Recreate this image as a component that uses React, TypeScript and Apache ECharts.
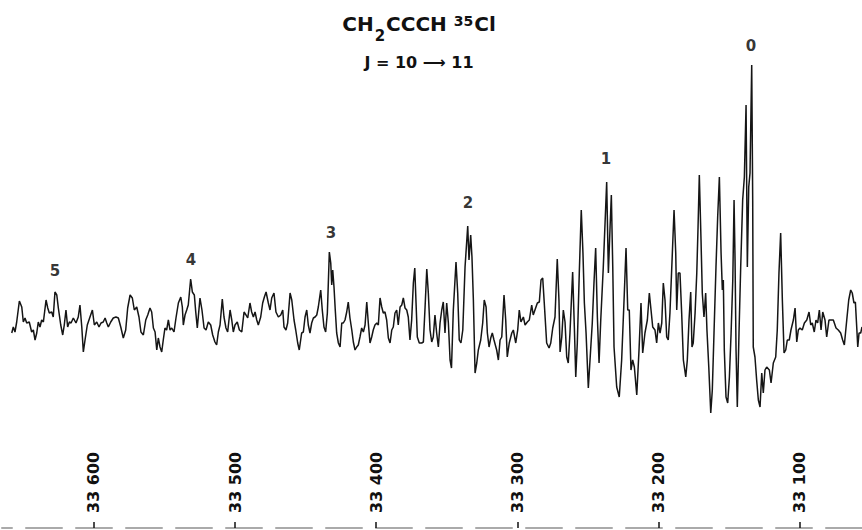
import React, { useEffect, useRef } from "react";
import * as echarts from "echarts";

// Frequency (MHz) of each trace point, read from the recording
const freqs: number[] = [
  33658.1, 33657.0, 33655.8, 33654.6, 33652.7, 33651.0, 33649.9, 33648.7, 33647.5, 33645.7,
  33644.0, 33642.8, 33641.6, 33640.4, 33639.3, 33638.1, 33636.9, 33635.7, 33633.8, 33632.6,
  33631.5, 33629.8, 33628.7, 33627.5, 33626.2, 33625.1, 33623.4, 33622.0, 33620.9, 33619.7,
  33618.5, 33617.3, 33616.1, 33614.5, 33612.6, 33611.0, 33609.8, 33608.5, 33607.4, 33606.2,
  33604.6, 33602.7, 33601.0, 33599.6, 33597.9, 33596.3, 33594.9, 33593.3, 33592.0, 33590.8,
  33589.7, 33588.0, 33586.2, 33584.3, 33582.6, 33580.9, 33579.1, 33577.4, 33576.0, 33574.3,
  33572.7, 33571.3, 33569.6, 33568.0, 33566.6, 33564.9, 33563.2, 33561.8, 33560.2, 33559.0,
  33557.8, 33556.6, 33555.4, 33554.3, 33553.1, 33551.9, 33550.8, 33549.6, 33548.4, 33547.2,
  33546.0, 33544.8, 33543.2, 33541.8, 33540.1, 33538.4, 33537.3, 33536.6, 33535.4, 33534.2,
  33533.1, 33531.4, 33530.2, 33528.8, 33527.8, 33526.7, 33524.8, 33523.4, 33521.9, 33520.5,
  33518.9, 33517.2, 33515.8, 33514.2, 33513.0, 33511.8, 33510.6, 33509.0, 33507.8, 33506.4,
  33505.2, 33503.5, 33502.3, 33501.2, 33500.0, 33498.4, 33496.9, 33495.2, 33493.6, 33492.2,
  33491.0, 33489.4, 33488.2, 33487.0, 33485.8, 33484.6, 33483.5, 33481.8, 33480.4, 33479.2,
  33478.0, 33476.4, 33475.2, 33474.0, 33472.4, 33471.0, 33469.3, 33467.6, 33466.2, 33465.3,
  33463.9, 33462.7, 33461.0, 33459.8, 33458.2, 33457.0, 33455.6, 33454.5, 33452.8, 33451.6,
  33450.4, 33449.2, 33448.1, 33446.9, 33445.7, 33444.5, 33443.3, 33442.1, 33441.0, 33439.3,
  33438.2, 33437.0, 33435.8, 33434.6, 33433.2, 33432.2, 33431.5, 33430.8, 33429.9, 33429.0,
  33428.0, 33426.8, 33425.6, 33424.4, 33423.3, 33422.1, 33420.9, 33419.8, 33418.6, 33417.3,
  33416.2, 33415.0, 33413.8, 33412.7, 33411.5, 33410.3, 33409.1, 33407.9, 33406.7, 33405.6,
  33404.4, 33403.2, 33402.1, 33400.9, 33399.6, 33398.5, 33397.3, 33396.1, 33395.0, 33393.8,
  33392.6, 33391.4, 33390.2, 33389.0, 33387.9, 33386.7, 33385.5, 33384.4, 33383.1, 33381.9,
  33380.8, 33379.6, 33378.4, 33377.3, 33376.1, 33374.9, 33373.7, 33372.7, 33371.8, 33370.9,
  33369.5, 33367.8, 33366.6, 33365.4, 33364.2, 33363.1, 33361.9, 33360.7, 33359.6, 33358.4,
  33357.2, 33356.0, 33354.8, 33353.6, 33352.5, 33351.3, 33350.1, 33348.9, 33347.7, 33346.7,
  33345.4, 33343.5, 33342.3, 33341.2, 33340.0, 33338.7, 33337.1, 33335.2, 33334.3, 33333.1,
  33332.2, 33331.2, 33330.0, 33328.8, 33327.7, 33326.0, 33324.6, 33323.5, 33322.2, 33321.3,
  33320.1, 33318.9, 33317.8, 33316.6, 33314.7, 33313.5, 33312.3, 33311.1, 33309.5, 33308.3,
  33307.2, 33305.8, 33304.0, 33302.9, 33301.2, 33299.8, 33298.7, 33297.5, 33295.8, 33294.6,
  33293.0, 33291.6, 33289.9, 33288.8, 33287.6, 33285.9, 33284.5, 33283.3, 33282.1, 33281.0,
  33279.3, 33277.6, 33276.4, 33275.0, 33273.4, 33271.8, 33270.6, 33269.8, 33268.6, 33267.5,
  33266.3, 33265.1, 33264.0, 33262.8, 33260.9, 33259.7, 33258.7, 33257.6, 33256.2, 33254.8,
  33253.6, 33252.6, 33251.4, 33249.8, 33248.6, 33247.0, 33245.8, 33244.6, 33243.4, 33242.2,
  33241.0, 33239.2, 33237.5, 33236.8, 33235.6, 33234.4, 33233.5, 33232.5, 33231.6, 33229.7,
  33227.9, 33226.2, 33224.5, 33223.1, 33221.9, 33220.8, 33219.6, 33218.4, 33217.2, 33215.5,
  33213.9, 33212.5, 33211.3, 33209.7, 33208.0, 33206.6, 33205.4, 33204.2, 33202.6, 33201.4,
  33200.2, 33199.0, 33197.8, 33196.7, 33195.5, 33194.3, 33193.2, 33192.0, 33190.3, 33189.1,
  33187.9, 33187.2, 33186.1, 33184.9, 33183.7, 33182.5, 33180.8, 33179.7, 33178.5, 33177.3,
  33176.4, 33175.5, 33174.2, 33173.0, 33172.1, 33171.2, 33170.0, 33169.1, 33167.9, 33166.7,
  33165.8, 33164.5, 33163.1, 33162.0, 33160.8, 33159.4, 33158.2, 33157.0, 33155.8, 33154.9,
  33154.2, 33153.5, 33152.3, 33151.1, 33149.9, 33148.7, 33147.5, 33146.6, 33145.9, 33145.2,
  33144.3, 33143.1, 33141.9, 33140.5, 33139.3, 33138.1, 33137.2, 33136.2, 33135.3, 33134.6,
  33134.1, 33133.4, 33133.0, 33131.8, 33130.6, 33129.4, 33128.2, 33127.0, 33125.9, 33124.7,
  33123.5, 33121.6, 33120.4, 33118.8, 33117.1, 33116.0, 33114.8, 33113.6, 33112.4, 33111.2,
  33110.0, 33108.9, 33107.5, 33106.3, 33104.6, 33103.4, 33102.2, 33101.1, 33099.9, 33098.3,
  33096.8, 33095.1, 33093.5, 33092.3, 33091.2, 33089.8, 33088.6, 33087.4, 33086.2, 33085.0,
  33083.8, 33082.2, 33081.0, 33079.4, 33077.4, 33076.3, 33074.4, 33072.8, 33071.1, 33069.7,
  33068.5, 33066.8, 33065.4, 33064.0, 33062.9, 33061.7, 33060.7, 33059.7, 33059.0, 33058.1,
  33056.9, 33056.0,
];

// Detector signal (arbitrary units) at each frequency above
const intensities: number[] = [
  -8, -2, -7, 3, 24, 18, 3, 7, 2, 3,
  -7, -5, -15, -8, 3, -2, 5, 3, 25, 17,
  12, 13, 8, 33, 30, 17, 0, -10, 0, 15,
  -2, 3, 2, 7, 2, 8, 20, -2, -27, -15,
  0, 8, 15, 0, 3, -2, 2, 3, 7, 2,
  -2, 3, 7, 8, 7, -2, -13, -5, 17, 30,
  27, 15, 18, 8, -7, -10, 5, 10, 17, 13,
  -3, -7, -25, -13, -22, -27, -15, -3, -5, 5,
  -5, -3, -7, 7, 22, 28, 18, 0, 10, 15,
  20, 46, 33, 30, 13, -3, 27, 15, -3, -5,
  3, 0, -10, -17, -20, -7, 0, 26, 8, -3,
  -7, 15, 5, -7, 0, 3, -5, -7, 13, 10,
  7, 22, 13, 8, 13, 5, 0, 8, 22, 28,
  33, 22, 15, 27, 32, 13, 8, 10, 15, -2,
  -5, 2, 32, 25, 5, -5, -18, -25, -8, -7,
  8, 15, 0, -8, 2, 7, 8, 10, 18, 35,
  15, -2, -7, 12, 73, 62, 40, 55, 38, 15,
  -8, -18, -22, 2, 2, 5, 13, 23, 7, -5,
  -17, -25, -22, -20, -12, -3, -7, 0, 23, 2,
  -18, -12, -5, 0, 2, 0, 27, 18, 12, 13,
  5, -13, -18, -5, -2, 12, 15, 0, 18, 20,
  27, 17, 15, 8, -15, 5, 42, 57, 22, -12,
  -18, -18, -17, 18, 56, 32, -5, -17, -12, 10,
  -8, -22, 2, 15, 23, -8, 22, 2, -35, -43,
  15, 63, 32, -15, -18, -5, 58, 99, 65, 90,
  68, 25, -48, -38, -25, -15, 2, 25, 18, -8,
  -22, -13, -8, -15, -25, -35, -15, -12, 30, 5,
  -32, -18, -8, -5, -18, -5, 15, 3, 8, 0,
  3, 5, 20, 10, 15, 22, 23, 45, 47, 22,
  -18, -23, -18, -3, 8, 66, 25, -27, -12, 15,
  3, -32, -38, -8, 53, -2, -52, -18, 52, 115,
  72, 22, -8, -63, -35, 2, 42, 77, 8, -38,
  5, 58, 118, 143, 52, 98, 130, 58, -22, -62,
  -72, -35, 25, 77, 15, 15, -45, -35, -42, -70,
  -25, 22, -28, -8, 5, 32, 15, -2, -5, -18,
  2, -8, 2, 42, 25, -12, -15, 12, 72, 115,
  72, 15, 52, 52, 12, -35, -52, -35, 5, 33,
  -22, -18, 12, 52, 98, 150, 85, 32, 8, 32,
  -5, -42, -88, -65, -8, 58, 108, 148, 72, 35,
  45, -25, -72, -78, -52, -8, 45, 125, 65, -25,
  -82, -8, 58, 125, 148, 220, 58, 138, 152, 215,
  260, 125, -22, -32, -55, -75, -82, -48, -68, -45,
  -42, -45, -58, -38, -32, -5, 52, 92, 25, -28,
  -25, -15, -15, -5, 5, 17, -17, -5, -3, -5,
  2, 5, 13, 0, 2, -7, 5, 2, 15, -5,
  13, 5, -12, 5, 5, 5, -3, -5, -8, -15,
  -20, 5, 25, 35, 32, 22, 23, -3, -22, -8,
  -8, -2,
];

// Vibrational-state labels placed above their lines
const peakNames: string[] = ["5", "4", "3", "2", "1", "0"];
const peakFreqs: number[] = [33627.5, 33531.2, 33432.0, 33335.0, 33237.3, 33134.6];
const peakLabelHeights: number[] = [54, 65, 92, 122, 166, 279];

// Frequency tick labels (MHz)
const tickValues: number[] = [33600, 33500, 33400, 33300, 33200, 33100];

const FONT = "DejaVu Sans";

export default function App() {
  const ref = useRef<HTMLDivElement>(null);

  useEffect(() => {
    if (!ref.current) return;
    const chart = echarts.init(ref.current, null, { renderer: "svg" });
    const trace = freqs.map((f, i) => [f, intensities[i]]);
    const peaks = peakFreqs.map((f, i) => [f, peakLabelHeights[i]]);

    chart.setOption({
      animation: false,
      backgroundColor: "#ffffff",
      title: [
        {
          text: "{a|CH}{b|2}{a|CCCH }{c|35}{a|Cl}",
          left: 419,
          top: 14,
          padding: 0,
          textAlign: "center",
          textStyle: {
            fontWeight: "bold",
            rich: {
              a: { fontFamily: FONT, fontSize: 20, fontWeight: "bold", lineHeight: 24, color: "#111", verticalAlign: "top" },
              b: { fontFamily: FONT, fontSize: 15, fontWeight: "bold", lineHeight: 14, padding: [14, 1, 0, 1], color: "#111", verticalAlign: "top" },
              c: { fontFamily: FONT, fontSize: 14, fontWeight: "bold", lineHeight: 15, padding: [0, 1, 0, 0], color: "#111", verticalAlign: "top" },
            },
          },
        },
        {
          text: "J = 10 ⟶ 11",
          left: 419,
          top: 53,
          padding: 0,
          textAlign: "center",
          textStyle: { fontFamily: FONT, fontSize: 16, lineHeight: 18, fontWeight: "bold", color: "#111" },
        },
      ],
      grid: { left: 2, right: 0, top: 20, bottom: 105, containLabel: false },
      xAxis: {
        type: "value",
        inverse: true,
        min: 33056,
        max: 33665,
        offset: 103,
        splitLine: { show: false },
        axisLine: { show: true, onZero: false, lineStyle: { color: "#aaa", width: 2, type: [36, 14] } },
        axisTick: {
          show: true,
          inside: true,
          length: 6,
          customValues: tickValues,
          lineStyle: { color: "#111", width: 1.5 },
        },
        axisLabel: {
          show: true,
          inside: true,
          rotate: 90,
          margin: 15,
          customValues: tickValues,
          fontFamily: FONT,
          fontSize: 16,
          fontWeight: "bold",
          color: "#111",
          formatter: (v: number) => {
            const s = String(Math.round(v));
            return s.slice(0, 2) + " " + s.slice(2);
          },
        },
      },
      yAxis: {
        type: "value",
        min: -100,
        max: 305,
        show: false,
        splitLine: { show: false },
      },
      series: [
        {
          type: "line",
          data: trace,
          showSymbol: false,
          symbol: "none",
          clip: false,
          lineStyle: { color: "#151515", width: 1.5 },
          silent: true,
        },
        {
          type: "scatter",
          data: peaks,
          symbolSize: 0,
          clip: false,
          silent: true,
          label: {
            show: true,
            position: "inside",
            fontFamily: FONT,
            fontSize: 15,
            fontWeight: "bold",
            color: "#000",
            formatter: (p: any) => peakNames[p.dataIndex],
          },
        },
      ],
    });

    return () => chart.dispose();
  }, []);

  return (
    <div
      ref={ref}
      style={{ position: "fixed", left: 0, top: 0, width: 862, height: 530, background: "#fff" }}
    />
  );
}
